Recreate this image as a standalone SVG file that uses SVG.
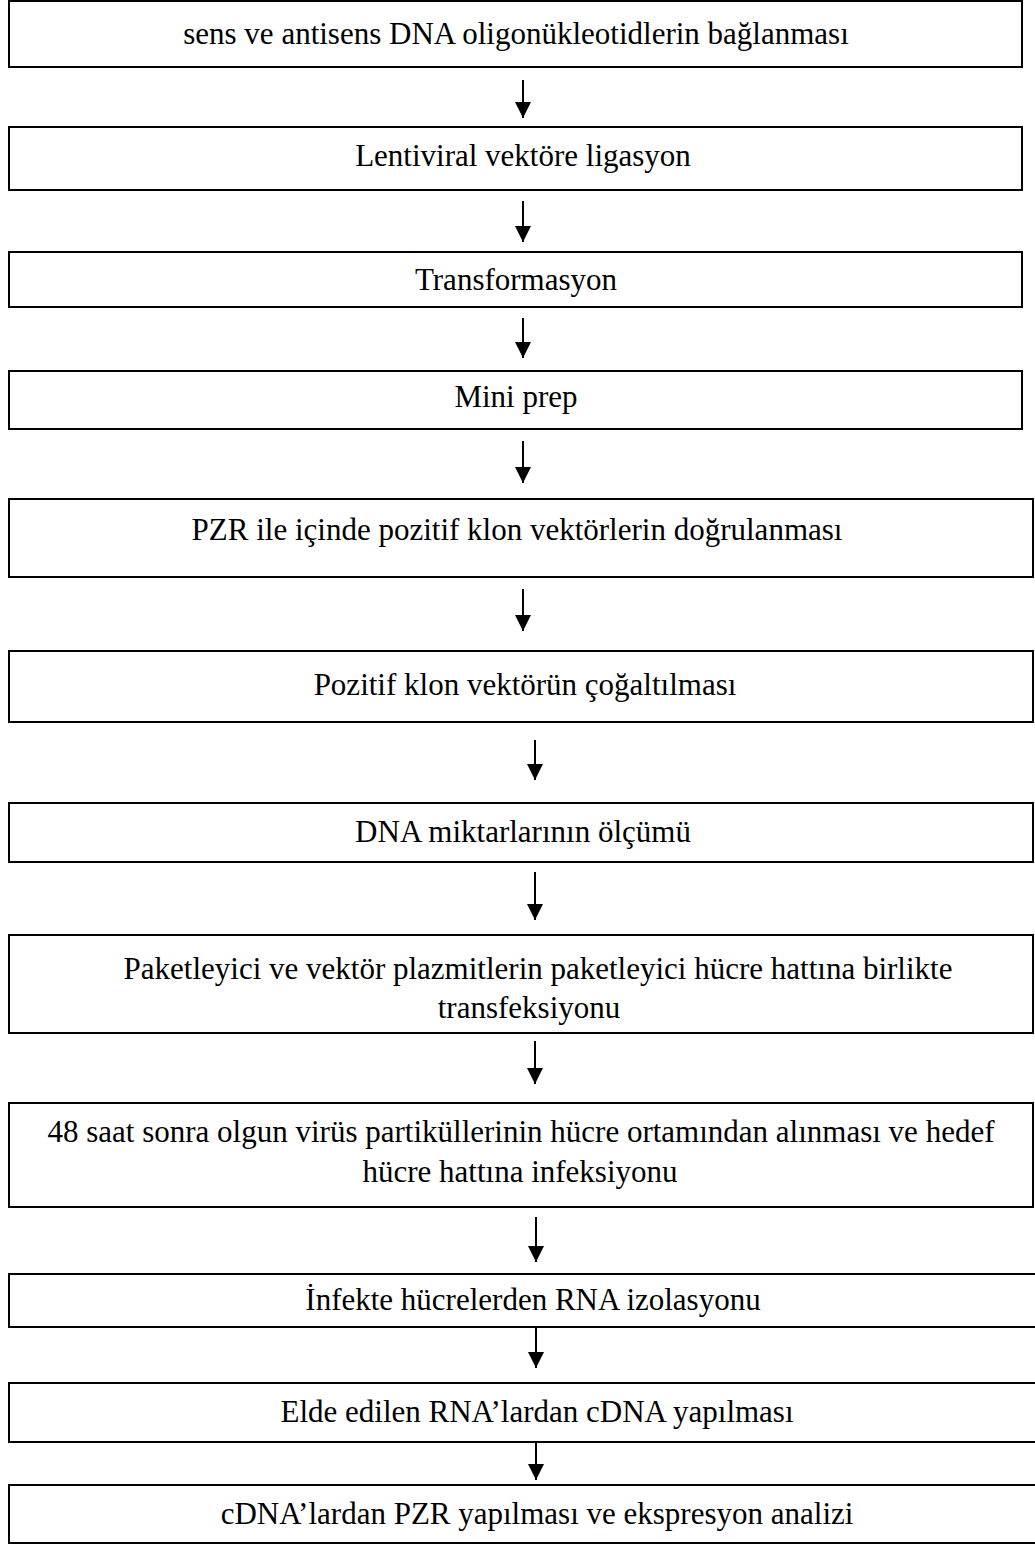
<svg xmlns="http://www.w3.org/2000/svg" width="1035" height="1545" viewBox="0 0 1035 1545">
  <style>
    .box { fill: #ffffff; stroke: #000000; stroke-width: 2; }
    .lbl { font-family: "Liberation Serif", "Times New Roman", serif; font-size: 31px; fill: #000000; text-anchor: middle; }
    .arr { stroke: #000000; stroke-width: 2; fill: none; marker-end: url(#head); }
  </style>
  <defs>
    <marker id="head" viewBox="0 0 16 16" refX="16" refY="8" markerWidth="16" markerHeight="16" markerUnits="userSpaceOnUse" orient="auto">
      <path d="M0,0 L16,8 L0,16 Z" fill="#000000"/>
    </marker>
  </defs>
  <rect x="0" y="0" width="1035" height="1545" fill="#ffffff"/>

  <g id="connectors">
    <line class="arr" x1="523" y1="80" x2="523" y2="118"/>
    <line class="arr" x1="523" y1="201" x2="523" y2="242"/>
    <line class="arr" x1="523" y1="318" x2="523" y2="358"/>
    <line class="arr" x1="523" y1="441" x2="523" y2="483"/>
    <line class="arr" x1="523" y1="589" x2="523" y2="631"/>
    <line class="arr" x1="535" y1="740" x2="535" y2="780"/>
    <line class="arr" x1="535" y1="872" x2="535" y2="920"/>
    <line class="arr" x1="535" y1="1041" x2="535" y2="1084"/>
    <line class="arr" x1="536" y1="1217" x2="536" y2="1262"/>
    <line class="arr" x1="536" y1="1327" x2="536" y2="1368"/>
    <line class="arr" x1="536" y1="1442" x2="536" y2="1480"/>
  </g>

  <g id="step1">
    <rect class="box" x="9" y="1" width="1013" height="66"/>
    <text class="lbl" x="516" y="44">sens ve antisens DNA oligonükleotidlerin bağlanması</text>
  </g>
  <g id="step2">
    <rect class="box" x="9" y="127" width="1013" height="63"/>
    <text class="lbl" x="523" y="166">Lentiviral vektöre ligasyon</text>
  </g>
  <g id="step3">
    <rect class="box" x="9" y="252" width="1013" height="55"/>
    <text class="lbl" x="516" y="290">Transformasyon</text>
  </g>
  <g id="step4">
    <rect class="box" x="9" y="371" width="1013" height="58"/>
    <text class="lbl" x="516" y="407">Mini prep</text>
  </g>
  <g id="step5">
    <rect class="box" x="9" y="499" width="1024" height="78"/>
    <text class="lbl" x="517" y="540">PZR ile içinde pozitif klon vektörlerin doğrulanması</text>
  </g>
  <g id="step6">
    <rect class="box" x="9" y="651" width="1024" height="71"/>
    <text class="lbl" x="525" y="695">Pozitif klon vektörün çoğaltılması</text>
  </g>
  <g id="step7">
    <rect class="box" x="9" y="803" width="1024" height="59"/>
    <text class="lbl" x="523" y="842">DNA miktarlarının ölçümü</text>
  </g>
  <g id="step8">
    <rect class="box" x="9" y="935" width="1024" height="98"/>
    <text class="lbl" x="538" y="979">Paketleyici ve vektör plazmitlerin paketleyici hücre hattına birlikte</text>
    <text class="lbl" x="529" y="1018">transfeksiyonu</text>
  </g>
  <g id="step9">
    <rect class="box" x="9" y="1103" width="1024" height="104"/>
    <text class="lbl" x="521" y="1142">48 saat sonra olgun virüs partiküllerinin hücre ortamından alınması ve hedef</text>
    <text class="lbl" x="520" y="1182">hücre hattına infeksiyonu</text>
  </g>
  <g id="step10">
    <rect class="box" x="9" y="1274" width="1040" height="53"/>
    <text class="lbl" x="533" y="1310">İnfekte hücrelerden RNA izolasyonu</text>
  </g>
  <g id="step11">
    <rect class="box" x="9" y="1383" width="1040" height="59"/>
    <text class="lbl" x="537" y="1422">Elde edilen RNA’lardan cDNA yapılması</text>
  </g>
  <g id="step12">
    <rect class="box" x="9" y="1485" width="1040" height="58"/>
    <text class="lbl" x="537" y="1524">cDNA’lardan PZR yapılması ve ekspresyon analizi</text>
  </g>
</svg>
